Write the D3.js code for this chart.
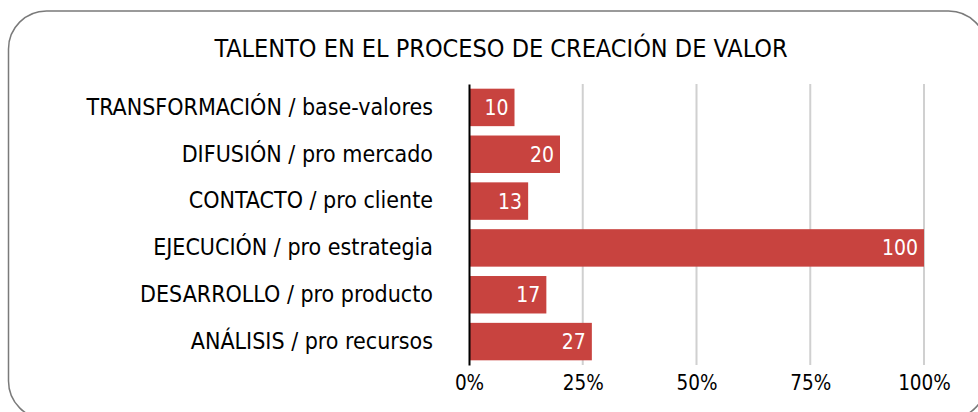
<!DOCTYPE html>
<html>
	<meta charset="utf-8" />
	<style>
		html,
		body,
		svg {
			padding: 0px;
			margin: 0px;
			background: #fff;
		}
		text {
			font-family: "DejaVu Sans Condensed", "DejaVu Sans", sans-serif;
			font-stretch: condensed;
		}
		.grid line {
			stroke: #d0d0d0;
			stroke-width: 2px;
		}
	</style>
	<svg width="978" height="412"></svg>
	<script src="https://d3js.org/d3.v7.min.js"></script>
	<script>
		var title = "TALENTO EN EL PROCESO DE CREACIÓN DE VALOR";
		var categories = [
			"TRANSFORMACIÓN / base-valores",
			"DIFUSIÓN / pro mercado",
			"CONTACTO / pro cliente",
			"EJECUCIÓN / pro estrategia",
			"DESARROLLO / pro producto",
			"ANÁLISIS / pro recursos",
		];
		var values = [10, 20, 13, 100, 17, 27];
		var ticks = [0, 25, 50, 75, 100];

		var font = '"DejaVu Sans Condensed", "DejaVu Sans", sans-serif';
		var svg = d3.select("svg");

		// rounded frame, runs off the right and bottom edges like the original
		svg.append("rect")
			.attr("x", 8.5)
			.attr("y", 11)
			.attr("width", 978)
			.attr("height", 408)
			.attr("rx", 38)
			.attr("fill", "none")
			.attr("stroke", "#7a7a7a")
			.attr("stroke-width", 1.5);

		svg.append("text")
			.attr("x", 501)
			.attr("y", 56.5)
			.attr("text-anchor", "middle")
			.attr("font-size", 25)
			.attr("fill", "#000")
			.text(title);

		var x = d3.scaleLinear().domain([0, 100]).range([469, 924]);
		var y = d3.scaleBand().domain(categories).range([84, 365]).paddingInner(0.2).paddingOuter(0.1);

		svg.append("g")
			.attr("class", "grid")
			.selectAll("line")
			.data(ticks.slice(1))
			.enter()
			.append("line")
			.attr("x1", (d) => x(d))
			.attr("x2", (d) => x(d))
			.attr("y1", 84)
			.attr("y2", 365);

		svg.append("g")
			.selectAll("rect")
			.data(values)
			.enter()
			.append("rect")
			.attr("x", x(0))
			.attr("y", (d, i) => y(categories[i]))
			.attr("width", (d) => x(d) - x(0))
			.attr("height", y.bandwidth())
			.attr("fill", "#c8433f");

		svg.append("g")
			.selectAll("text")
			.data(values)
			.enter()
			.append("text")
			.attr("x", (d) => x(d) - 6)
			.attr("y", (d, i) => y(categories[i]) + y.bandwidth() / 2)
			.attr("dy", "0.36em")
			.attr("text-anchor", "end")
			.attr("font-size", 21)
			.attr("fill", "#fff")
			.text((d) => d);

		// category labels
		var yAxis = svg.append("g")
			.attr("transform", "translate(" + x(0) + ",0)")
			.call(d3.axisLeft(y).tickSize(0).tickPadding(36));
		yAxis.select(".domain").attr("stroke", "#000").attr("stroke-width", 2);
		yAxis.selectAll("text").attr("font-size", 23).attr("fill", "#000").style("font-family", font);

		var xAxis = svg.append("g")
			.attr("transform", "translate(0,365)")
			.call(d3.axisBottom(x).tickValues(ticks).tickSize(0).tickPadding(10).tickFormat((d) => d + "%"));
		xAxis.select(".domain").remove();
		xAxis.selectAll("text").attr("font-size", 20.5).attr("fill", "#000").style("font-family", font);
	</script>
</html>
